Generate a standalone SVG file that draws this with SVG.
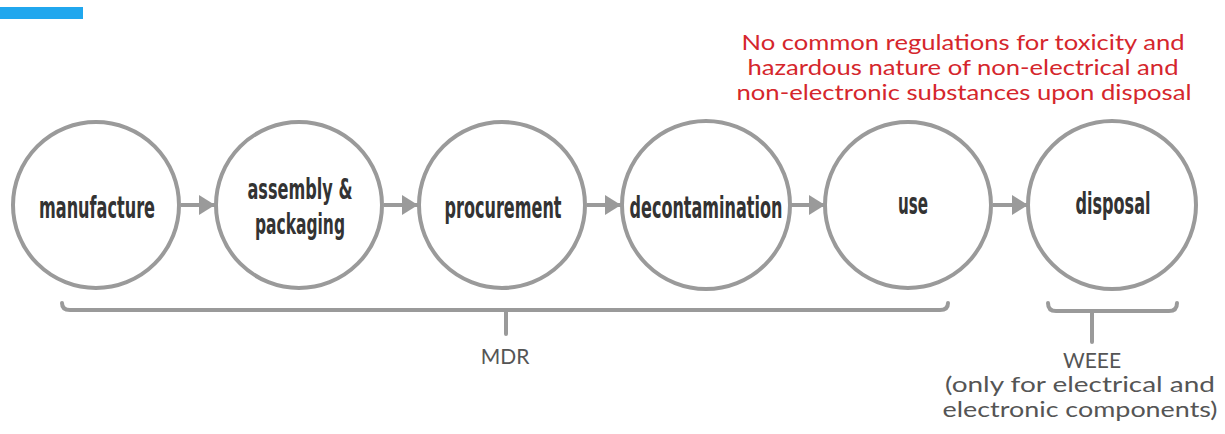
<svg xmlns="http://www.w3.org/2000/svg" width="1225" height="434" viewBox="0 0 1225 434">
<style>
.node circle{fill:#fff;stroke:#9a9a9a;stroke-width:4}
.lbl{font-family:"Liberation Sans Narrow","DejaVu Sans Condensed",sans-serif;font-weight:bold;font-size:31px;fill:#333;text-anchor:middle}
.sm{font-size:28px}
.conn{stroke:#9a9a9a;stroke-width:4;fill:none}
.brk{stroke:#9a9a9a;stroke-width:4;fill:none;stroke-linecap:round}
.red{font-family:"Lato","Liberation Sans",sans-serif;font-size:21px;fill:#d5262c;text-anchor:middle}
.note{font-family:"Lato","Liberation Sans",sans-serif;font-size:21px;fill:#555;text-anchor:middle}
</style>
<defs>
<marker id="ah" markerUnits="userSpaceOnUse" markerWidth="17" markerHeight="20" refX="16" refY="10" orient="auto">
<path d="M0,0 L16,10 L0,20 Z" fill="#9a9a9a"/>
</marker>
</defs>
<rect x="0" y="7" width="83" height="12" fill="#20a7ee"/>
<g id="regulation-note">
<text class="red" x="963" y="50" textLength="443" lengthAdjust="spacingAndGlyphs">No common regulations for toxicity and</text>
<text class="red" x="963" y="75" textLength="431" lengthAdjust="spacingAndGlyphs">hazardous nature of non-electrical and</text>
<text class="red" x="964" y="100" textLength="455" lengthAdjust="spacingAndGlyphs">non-electronic substances upon disposal</text>
</g>
<g id="connectors">
<line class="conn" x1="181" y1="205" x2="215" y2="205" marker-end="url(#ah)"/>
<line class="conn" x1="384" y1="205" x2="418" y2="205" marker-end="url(#ah)"/>
<line class="conn" x1="587" y1="205" x2="621" y2="205" marker-end="url(#ah)"/>
<line class="conn" x1="791" y1="205" x2="825" y2="205" marker-end="url(#ah)"/>
<line class="conn" x1="993" y1="205" x2="1028" y2="205" marker-end="url(#ah)"/>
</g>
<g id="manufacture" class="node"><circle cx="96" cy="205" r="83"/><text class="lbl" x="97" y="218" textLength="116" lengthAdjust="spacingAndGlyphs">manufacture</text></g>
<g id="assembly" class="node"><circle cx="299" cy="205" r="83"/><text class="lbl sm" x="300" y="199" textLength="105" lengthAdjust="spacingAndGlyphs">assembly &amp;</text><text class="lbl sm" x="300" y="234" textLength="90" lengthAdjust="spacingAndGlyphs">packaging</text></g>
<g id="procurement" class="node"><circle cx="502" cy="205" r="83"/><text class="lbl" x="503" y="218" textLength="117" lengthAdjust="spacingAndGlyphs">procurement</text></g>
<g id="decontamination" class="node"><circle cx="706" cy="205" r="84"/><text class="lbl" x="706" y="218" textLength="153" lengthAdjust="spacingAndGlyphs">decontamination</text></g>
<g id="use" class="node"><circle cx="908" cy="205" r="83"/><text class="lbl" x="913" y="214" textLength="30" lengthAdjust="spacingAndGlyphs">use</text></g>
<g id="disposal" class="node"><circle cx="1112" cy="205" r="84"/><text class="lbl" x="1113" y="214" textLength="75" lengthAdjust="spacingAndGlyphs">disposal</text></g>
<g id="mdr">
<path class="brk" d="M62,303 Q62,310 70,310 L940,310 Q948,310 948,303 M506,310 L506,334"/>
<text class="note" x="505" y="364">MDR</text>
</g>
<g id="weee">
<path class="brk" d="M1048,303 Q1048,311 1056,311 L1169,311 Q1177,311 1177,303 M1092,311 L1092,342"/>
<text class="note" x="1092" y="368">WEEE</text>
<text class="note" x="1080" y="392" textLength="270" lengthAdjust="spacingAndGlyphs">(only for electrical and</text>
<text class="note" x="1080" y="417" textLength="275" lengthAdjust="spacingAndGlyphs">electronic components)</text>
</g>
</svg>
